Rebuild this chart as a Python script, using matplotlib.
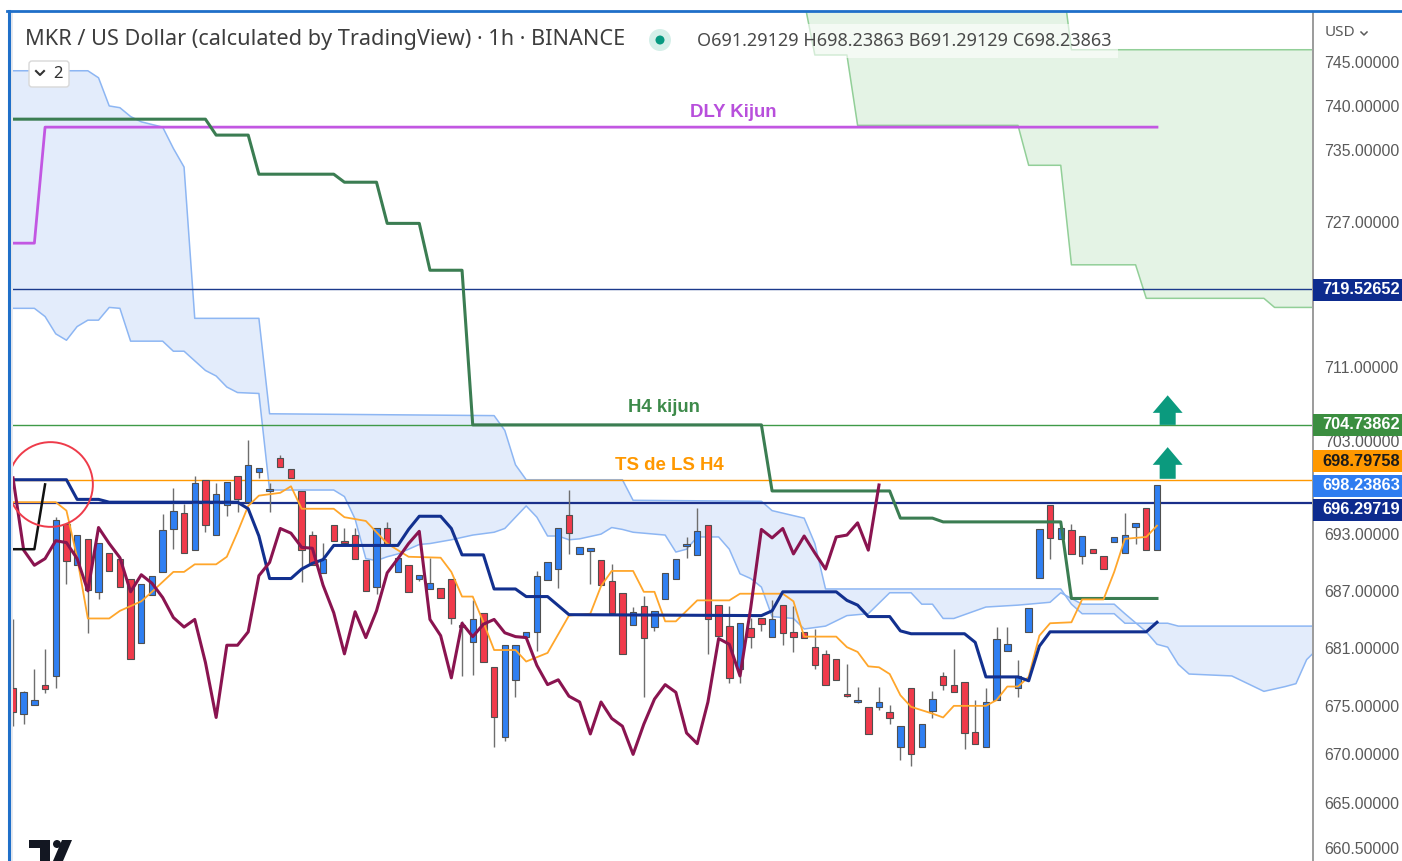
import numpy as np
import matplotlib
matplotlib.use('Agg')
import matplotlib.pyplot as plt
from matplotlib.patches import Rectangle, Polygon, FancyBboxPatch, Circle
from matplotlib.lines import Line2D
from matplotlib.transforms import IdentityTransform
from matplotlib.ticker import NullLocator, NullFormatter, FixedLocator

plt.rcParams['font.family'] = ['Noto Sans', 'DejaVu Sans']
BOLD_FONT = ['Liberation Sans', 'DejaVu Sans']

# ---------------- data ----------------
opens = [676.8, 674.2, 675.1, 677.2, 678.1, 694.1, 689.7, 692.5, 686.9, 691.0,
         690.4, 688.2, 681.5, 686.6, 689.0, 693.5, 695.2, 691.3, 698.8, 692.9,
         696.1, 699.2, 696.4, 699.6, 697.6, 701.1, 699.9, 697.6, 692.9, 688.9,
         694.0, 692.2, 692.9, 690.3, 687.4, 693.7, 689.0, 689.7, 688.3, 687.2,
         687.3, 688.3, 683.3, 681.6, 684.7, 679.0, 671.8, 677.7, 682.2, 682.7,
         688.1, 689.3, 695.0, 690.9, 691.2, 690.3, 688.0, 686.8, 683.4, 685.4,
         683.2, 686.1, 688.3, 691.7, 690.8, 694.0, 685.5, 683.3, 678.8, 683.1,
         684.2, 682.2, 685.5, 682.7, 682.7, 681.1, 680.4, 679.9, 676.2, 675.4,
         674.9, 674.9, 674.4, 670.8, 676.9, 670.8, 674.5, 678.1, 677.2, 677.5,
         672.3, 670.8, 675.6, 680.7, 676.8, 682.7, 688.4, 696.1, 692.5, 693.4,
         690.7, 691.4, 690.7, 692.2, 691.0, 693.8, 695.8, 691.29129]
highs = [684.0, 676.5, 678.8, 680.9, 694.8, 694.1, 692.9, 692.5, 692.1, 691.0,
         690.4, 688.2, 687.7, 688.6, 695.1, 697.9, 696.2, 699.2, 698.8, 698.5,
         698.6, 699.2, 703.1, 700.1, 698.5, 701.5, 699.9, 697.6, 693.3, 692.1,
         694.0, 693.6, 693.6, 690.3, 693.7, 694.3, 690.5, 689.7, 688.7, 690.5,
         687.3, 688.3, 683.8, 686.0, 684.7, 679.0, 681.3, 681.3, 682.7, 689.1,
         690.0, 693.6, 697.7, 691.6, 691.5, 690.3, 689.8, 686.8, 685.3, 686.5,
         684.9, 688.9, 690.4, 692.7, 695.8, 694.0, 685.5, 685.4, 683.6, 684.2,
         684.2, 686.0, 685.5, 685.4, 682.7, 683.0, 680.8, 679.9, 679.3, 677.0,
         674.9, 677.0, 675.1, 672.9, 676.9, 673.1, 676.5, 678.5, 680.9, 677.5,
         675.6, 676.8, 683.2, 683.2, 679.8, 685.2, 693.5, 696.1, 693.6, 694.1,
         692.8, 691.4, 690.7, 692.7, 695.2, 694.2, 695.8, 698.23863]
lows = [672.9, 673.1, 675.1, 676.3, 676.9, 687.7, 689.7, 682.6, 686.1, 689.1,
        687.4, 679.9, 681.5, 686.6, 689.0, 691.4, 691.0, 691.3, 693.2, 692.9,
        694.9, 695.4, 696.4, 699.0, 695.4, 700.2, 699.0, 687.9, 689.7, 688.9,
        692.3, 692.0, 690.4, 687.0, 686.7, 692.0, 689.0, 686.9, 688.0, 687.2,
        686.3, 683.5, 678.1, 678.2, 679.5, 670.8, 671.4, 675.9, 682.2, 680.7,
        688.1, 687.3, 690.9, 690.9, 687.7, 687.6, 684.7, 680.4, 683.4, 675.9,
        682.8, 686.1, 688.3, 690.5, 690.8, 680.4, 682.3, 677.4, 677.4, 681.0,
        682.8, 682.2, 681.3, 680.6, 682.1, 678.8, 677.2, 677.7, 675.9, 675.3,
        672.1, 674.6, 673.1, 669.4, 668.8, 670.8, 673.7, 676.6, 676.4, 670.6,
        671.1, 670.8, 675.6, 680.7, 675.9, 682.7, 688.4, 690.4, 692.5, 690.9,
        689.8, 691.0, 689.3, 692.2, 691.0, 692.0, 691.3, 691.29129]
closes = [674.4, 676.4, 675.6, 676.7, 694.5, 690.2, 692.9, 687.1, 692.1, 689.1,
          687.4, 679.9, 687.7, 688.6, 693.4, 695.5, 691.0, 698.4, 694.0, 697.3,
          698.6, 696.7, 700.4, 700.1, 697.8, 700.2, 699.0, 691.3, 689.7, 690.4,
          692.3, 692.1, 690.4, 687.0, 693.7, 692.0, 690.5, 686.9, 688.7, 687.8,
          686.3, 684.2, 683.2, 684.0, 679.5, 673.8, 681.3, 681.3, 682.7, 688.6,
          690.0, 693.6, 693.1, 691.6, 691.5, 687.6, 684.7, 680.4, 684.8, 682.1,
          684.9, 688.9, 690.4, 692.0, 693.3, 684.0, 682.3, 677.9, 683.6, 682.2,
          683.5, 684.0, 682.6, 682.2, 682.1, 679.2, 677.2, 677.7, 676.0, 675.4,
          672.1, 675.4, 673.7, 672.9, 670.0, 673.1, 675.7, 677.2, 676.4, 672.2,
          671.1, 675.4, 682.0, 681.4, 678.1, 685.2, 693.5, 692.6, 693.6, 690.9,
          692.8, 691.0, 689.3, 692.7, 692.9, 694.2, 691.3, 698.23863]

chikou_shift = 26

# Ichimoku / indicator lines: (bar index, price) vertices
kijun_1h = [(0, 698.8), (5, 698.8), (6, 696.7), (8, 696.7), (9, 696.4), (21, 696.4),
            (22, 695.7), (23, 692.8), (24, 688.3), (26, 688.3), (27, 689.3), (28, 689.9),
            (29, 690.3), (30, 691.8), (36, 691.8), (37, 693.5), (38, 694.9), (40, 694.9),
            (41, 693.6), (42, 690.8), (44, 690.8), (45, 687.2), (47, 687.2), (48, 686.4),
            (50, 686.4), (52, 684.5), (70, 684.4), (71, 684.9), (72, 686.9), (77, 686.9),
            (78, 686.0), (79, 685.5), (80, 684.3), (82, 684.3), (83, 682.8), (84, 682.5),
            (89, 682.5), (90, 681.6), (91, 678.0), (94, 678.0), (95, 677.6), (96, 681.2),
            (97, 682.7), (106, 682.7), (107, 683.7)]
tenkan_1h = [(0, 696.4), (4, 696.4), (5, 695.5), (6, 690.5), (7, 684.1), (9, 684.1),
             (10, 684.9), (12, 685.9), (13, 686.9), (15, 689.0), (16, 689.0), (17, 689.8),
             (19, 689.8), (20, 690.6), (21, 693.2), (22, 696.0), (23, 697.1), (25, 697.4),
             (26, 698.1), (27, 695.7), (30, 695.7), (31, 694.8), (33, 694.4), (35, 692.0),
             (37, 690.6), (40, 690.5), (41, 689.0), (42, 686.4), (43, 686.4), (44, 683.7),
             (45, 680.8), (47, 680.8), (48, 679.6), (50, 680.5), (52, 684.4), (54, 684.6),
             (55, 687.5), (56, 689.1), (58, 689.1), (59, 686.9), (60, 686.9), (61, 683.8),
             (62, 683.8), (64, 686.0), (67, 686.0), (68, 686.7), (72, 686.7), (73, 685.9),
             (74, 682.2), (77, 682.2), (78, 681.1), (79, 680.6), (80, 679.1), (81, 679.0),
             (82, 678.3), (83, 676.1), (84, 674.9), (86, 674.2), (87, 673.8), (88, 675.0),
             (91, 675.0), (92, 675.6), (93, 677.0), (94, 677.0), (95, 678.0), (96, 682.3),
             (97, 683.6), (99, 683.7), (100, 686.1), (102, 686.1), (103, 689.0), (104, 692.5),
             (106, 692.7), (107, 693.9)]
kijun_h4 = [(0, 738.5), (18, 738.5), (19, 736.7), (22, 736.7), (23, 732.3), (30, 732.3),
            (31, 731.4), (34, 731.4), (35, 726.8), (38, 726.8), (39, 721.6), (42, 721.6),
            (43, 704.7), (70, 704.7), (71, 697.6), (82, 697.6), (83, 694.7), (86, 694.7),
            (87, 694.3), (98, 694.3), (99, 686.2), (107, 686.2)]
kijun_daily = [(0, 724.6), (2, 724.6), (3, 737.6), (107, 737.6)]
black_line = [(0, 691.4), (2, 691.4), (3, 698.3)]

span_a = [(0, 744.0), (7, 744.0), (8, 743.2), (9, 740.0), (10, 739.8), (11, 738.8),
          (12, 738.2), (14, 737.6), (15, 735.2), (16, 733.1), (17, 716.3), (23, 716.3),
          (24, 705.9), (45, 705.7), (46, 704.1), (47, 700.4), (48, 698.8), (57, 698.8),
          (58, 696.6), (70, 696.5), (71, 695.5), (74, 694.7), (75, 692.0), (76, 687.2),
          (98, 687.2), (99, 685.6), (100, 684.6), (103, 684.6), (104, 683.6), (108, 683.6),
          (109, 683.3), (123, 683.3)]
span_b = [(0, 717.4), (2, 717.4), (3, 716.5), (4, 714.6), (5, 713.9), (6, 715.4),
          (7, 716.1), (8, 716.1), (9, 717.5), (10, 717.4), (11, 713.8), (14, 713.8),
          (15, 712.7), (16, 712.7), (18, 710.6), (19, 710.0), (20, 708.8), (21, 708.2),
          (23, 708.1), (24, 697.7), (30, 697.7), (31, 697.0), (32, 694.6), (33, 690.4),
          (34, 690.2), (35, 690.6), (36, 690.9), (38, 691.9), (39, 692.0), (41, 692.4),
          (43, 692.9), (45, 693.2), (46, 693.6), (47, 694.8), (48, 696.0), (49, 694.8),
          (50, 692.8), (51, 692.8), (52, 692.4), (53, 692.5), (55, 693.0), (56, 693.7),
          (57, 693.5), (58, 693.2), (61, 692.9), (62, 691.1), (63, 691.4), (64, 692.7),
          (66, 692.7), (67, 691.4), (68, 688.8), (69, 688.3), (70, 687.4), (71, 684.3),
          (73, 684.1), (74, 683.0), (76, 683.3), (78, 684.4), (80, 684.6), (82, 686.8),
          (84, 686.8), (85, 685.6), (86, 685.6), (87, 684.1), (88, 684.1), (90, 684.9),
          (91, 685.3), (94, 685.5), (97, 685.8), (98, 686.8), (100, 685.6), (103, 685.6),
          (104, 684.6), (106, 682.7), (107, 681.4), (108, 681.1), (109, 679.3), (110, 678.3),
          (114, 678.1), (117, 676.5), (119, 677.0), (120, 677.3), (121, 679.8), (123, 682.0)]
h4_cloud_low = [(74, 752.0), (75, 745.8), (78, 745.8), (79, 737.8), (94, 737.8), (95, 733.3),
                (98, 733.3), (99, 722.2), (105, 722.2), (106, 718.5), (117, 718.5),
                (118, 717.5), (123, 717.5)]
h4_cloud_high = [(74, 756.0), (98, 756.0), (99, 746.4), (123, 746.4)]

hlines = [(719.52652, '#1b3a8c', 1.0), (704.73862, '#3f9a48', 1.0),
          (698.79758, '#ff9800', 1.0), (696.29719, '#1a2f8a', 1.6)]
price_tags = [(719.52652, '719.52652', '#0d2b8e', 'white'),
              (704.73862, '704.73862', '#3b8e40', 'white'),
              (698.79758, '698.79758', '#ff9800', '#1a1a1a'),
              (698.23863, '698.23863', '#2f7df0', 'white'),
              (696.29719, '696.29719', '#0d2b8e', 'white')]
tag_centers_px = [290, 425, 461, 486, 510]
tick_vals = [745, 740, 735, 727, 711, 703, 693, 687, 681, 675, 670, 665, 660.5]

labels = [('DLY Kijun', 67.4, 739.2, '#b84fdc'),
          ('H4 kijun', 60.9, 706.6, '#3d8a4a'),
          ('TS de LS H4', 61.4, 700.3, '#ff9800')]
arrows = [(108.0, 704.7, 706.0, 707.9), (108.0, 698.9, 700.4, 702.3)]
circle_anchor = (3.5, 698.3)

# ---------------- figure ----------------
W, H = 1402, 861
fig = plt.figure(figsize=(W / 100, H / 100), dpi=100)
fig.patch.set_facecolor('white')
AX_L, AX_R, AX_T, AX_B = 10, 1312, 12, 861
ax = fig.add_axes([AX_L / W, 1 - AX_B / H, (AX_R - AX_L) / W, (AX_B - AX_T) / H])
ax.set_facecolor('white')
ax.set_yscale('log')
ax.set_ylim(659.14, 750.73)
ax.set_xlim(-0.28, 121.5)
for s in ax.spines.values():
    s.set_visible(False)
ax.set_xticks([])
ax.yaxis.tick_right()
ax.yaxis.set_major_locator(FixedLocator(tick_vals))
ax.yaxis.set_minor_locator(NullLocator())
ax.yaxis.set_minor_formatter(NullFormatter())
ax.set_yticklabels([f'{v:.5f}' for v in tick_vals])
ax.tick_params(axis='y', length=0, pad=9.0, labelsize=11.4, labelcolor='#5a5a5a')
for t in ax.get_yticklabels():
    t.set_fontfamily(BOLD_FONT)


def xy(pairs):
    a = np.array(pairs, dtype=float)
    return a[:, 0], a[:, 1]


# clouds
ax_, ay_ = xy(span_a)
bx_, by_ = xy(span_b)
ax.fill(np.concatenate([ax_, bx_[::-1]]), np.concatenate([ay_, by_[::-1]]),
        color='#e3ecfb', lw=0, zorder=1)
ax.plot(ax_, ay_, color='#8db6f3', lw=1.1, zorder=1.5)
ax.plot(bx_, by_, color='#8db6f3', lw=1.1, zorder=1.5)

gx1, gy1 = xy(h4_cloud_low)
gx2, gy2 = xy(h4_cloud_high)
ax.fill(np.concatenate([gx1, gx2[::-1]]), np.concatenate([gy1, gy2[::-1]]),
        color='#e4f3e5', lw=0, zorder=1)
ax.plot(gx1, gy1, color='#92cf98', lw=1.1, zorder=1.5)
ax.plot(gx2, gy2, color='#92cf98', lw=1.1, zorder=1.5)

# horizontal levels
for val, col, lw in hlines:
    ax.axhline(val, color=col, lw=lw, zorder=2)

# candles
o = np.array(opens); h = np.array(highs); l = np.array(lows); c = np.array(closes)
idx = np.arange(len(o))
up = c >= o
body_col = np.where(up, '#2f7ff2', '#f03a4b')
ax.vlines(idx, l, h, color='#6e6e6e', lw=1.0, zorder=3)
bottoms = np.minimum(o, c)
heights = np.maximum(np.abs(c - o), 0.18)
ax.bar(idx, heights, bottom=bottoms, width=0.6, color=body_col,
       edgecolor='#4f4f4f', linewidth=0.8, zorder=4)

# indicator lines
x, y = xy(kijun_daily)
ax.plot(x, y, color='#c257e2', lw=2.0, zorder=5)
x, y = xy(kijun_h4)
ax.plot(x, y, color='#3b7d52', lw=2.2, zorder=5)
x, y = xy(tenkan_1h)
ax.plot(x, y, color='#ffa62b', lw=1.3, zorder=6)
x, y = xy(kijun_1h)
ax.plot(x, y, color='#12308f', lw=2.2, zorder=6)
ax.plot(idx[:-chikou_shift], c[chikou_shift:], color='#8a1450', lw=2.2, zorder=6)
x, y = xy(black_line)
ax.plot(x, y, color='#111111', lw=1.8, zorder=6)

# annotation circle
ax.plot([circle_anchor[0]], [circle_anchor[1]], marker='o', ms=61, mfc='none',
        mec='#ee3b4a', mew=1.4, zorder=7)

# text labels on chart
for txt, xi, yv, col in labels:
    ax.text(xi, yv, txt, color=col, fontsize=13.4, fontweight='bold', family=BOLD_FONT,
            ha='center', va='center', zorder=8)

# arrows
for xi, base, neck, tip in arrows:
    poly = [(xi - 0.75, base), (xi + 0.75, base), (xi + 0.75, neck), (xi + 1.4, neck),
            (xi, tip), (xi - 1.4, neck), (xi - 0.75, neck)]
    ax.add_patch(Polygon(poly, closed=True, fc='#0b9a7e', ec='none', zorder=8))

# ---------------- decorations in pixel space ----------------
ID = IdentityTransform()


def P(xp, yp):
    return (xp, H - yp)


# legend background
fig.add_artist(Rectangle(P(18, 58), 1100, 34, transform=ID, fc='white', alpha=0.6,
                         ec='none', zorder=2))
# header texts
fig.text(25 / W, 1 - 40 / H, 'MKR / US Dollar (calculated by TradingView) · 1h · BINANCE',
         fontsize=15.6, color='#3d3d3d', va='center', ha='left', zorder=5)
fig.add_artist(Circle(P(660, 40), 11, transform=ID, fc='#d5efe9', ec='none', zorder=4))
fig.add_artist(Circle(P(660, 40), 4.5, transform=ID, fc='#089981', ec='none', zorder=5))
fig.text(697 / W, 1 - 41 / H, 'O691.29129 H698.23863 B691.29129 C698.23863',
         fontsize=13.0, color='#4a4a4a', va='center', ha='left', zorder=5)

# collapse button
fig.add_artist(FancyBboxPatch(P(29, 87), 40, 26, boxstyle='round,pad=0,rounding_size=3',
                              transform=ID, fc='white', ec='#d8d8d8', lw=1, zorder=5))
fig.add_artist(Line2D([36, 40, 44], [H - 71, H - 75, H - 71], transform=ID,
                      color='#333333', lw=1.5, zorder=6))
fig.text(58 / W, 1 - 73.5 / H, '2', fontsize=12, color='#333333', va='center',
         ha='center', zorder=6)

# price axis separator and frame
fig.add_artist(Line2D([1312.5, 1312.5], [0, H - 12], transform=ID, color='#8a8a8a',
                      lw=1.2, zorder=6))
fig.add_artist(Line2D([8.5, 8.5], [0, H - 11], transform=ID, color='#1f6fc9',
                      lw=2.2, zorder=6))
fig.add_artist(Line2D([7, W], [H - 11, H - 11], transform=ID, color='#1f6fc9',
                      lw=2.0, zorder=6))
fig.add_artist(Rectangle((10, 0), 2.5, H - 12, transform=ID, fc='#e6e9ef', ec='none',
                         zorder=5))

# USD label
fig.text(1325 / W, 1 - 33 / H, 'USD', fontsize=11, color='#5a5a5a', va='center',
         ha='left', zorder=6)
fig.add_artist(Line2D([1361, 1364, 1367], [H - 32, H - 35, H - 32], transform=ID,
                      color='#5a5a5a', lw=1.1, zorder=6))

# price tags on the axis
for (val, txt, fc, tc), cy in zip(price_tags, tag_centers_px):
    fig.add_artist(Rectangle(P(1313, cy + 11), 89, 22, transform=ID, fc=fc, ec='none',
                             zorder=7))
    fig.text(1322 / W, 1 - cy / H, txt, fontsize=11.8, fontweight='bold', family=BOLD_FONT,
             color=tc, va='center', ha='left', zorder=8)

# TradingView logo
logo_col = '#131722'
fig.add_artist(Polygon([P(29, 840), P(50, 840), P(50, 861), P(40, 861), P(40, 848),
                        P(29, 848)], closed=True, transform=ID, fc=logo_col, ec='none',
                       zorder=6))
fig.add_artist(Circle(P(57, 844), 4, transform=ID, fc=logo_col, ec='none', zorder=6))
fig.add_artist(Polygon([P(62, 840), P(72, 840), P(63, 861), P(53, 861)], closed=True,
                       transform=ID, fc=logo_col, ec='none', zorder=6))

fig.savefig('out.png', dpi=100, facecolor='white')
